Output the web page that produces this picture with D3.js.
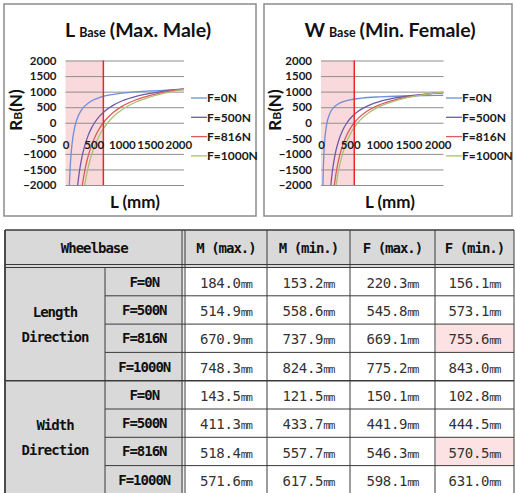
<!DOCTYPE html>
<html>
<head>
<meta charset="utf-8">
<script src="https://cdn.jsdelivr.net/npm/d3@7"></script>
<style>
  body { margin: 0; background: #fff; }
  svg { display: block; }
</style>
</head>
<body>
<svg width="515" height="493"></svg>
<script>
// legend / series
var forces = ['F=0N', 'F=500N', 'F=816N', 'F=1000N'];
var seriesColors = ['#6f8edb', '#6b5ba9', '#db5a5c', '#a9c172'];

// L base (max. male) -- [L (mm), RB (N)]
var maleF0 = [[68,-2000],[80,-1517],[100,-980],[130,-485],[160,-175],[184,0],[220,191],[270,372],[330,516],[400,630],[500,738],[600,809],[700,860],[850,914],[1000,952],[1250,995],[1500,1024],[1750,1044],[2000,1060],[2100,1065]];
var maleF500 = [[216,-2000],[240,-1651],[280,-1209],[330,-807],[400,-414],[460,-172],[515,0],[600,204],[700,381],[850,568],[1000,699],[1250,847],[1500,946],[1750,1017],[2000,1070],[2100,1088]];
var maleF816 = [[298,-2000],[330,-1647],[380,-1221],[450,-783],[530,-424],[600,-188],[671,0],[750,168],[850,336],[1000,525],[1250,739],[1500,882],[1750,984],[2000,1060],[2100,1085]];
var maleF1000 = [[340,-2000],[380,-1610],[430,-1230],[500,-825],[580,-482],[660,-222],[748,0],[850,199],[1000,418],[1250,667],[1500,832],[1750,951],[2000,1039],[2100,1069]];

// W base (min. female)
var femaleF0 = [[33,-2000],[40,-1457],[50,-980],[65,-540],[80,-265],[103,0],[130,194],[170,367],[220,494],[300,610],[400,689],[500,737],[700,792],[1000,833],[1500,864],[2000,880],[2100,883]];
var femaleF500 = [[169,-2000],[190,-1636],[220,-1246],[260,-866],[310,-530],[370,-246],[445,0],[520,178],[600,317],[700,446],[850,583],[1000,679],[1250,788],[1500,860],[1750,912],[2000,950],[2100,963]];
var femaleF816 = [[229,-2000],[260,-1603],[300,-1210],[350,-846],[420,-481],[490,-220],[571,0],[650,165],[750,322],[850,442],[1000,577],[1250,730],[1500,832],[1750,905],[2000,960],[2100,978]];
var femaleF1000 = [[260,-2000],[290,-1650],[330,-1280],[390,-867],[460,-522],[540,-237],[631,0],[720,173],[820,323],[950,470],[1100,597],[1300,721],[1500,812],[1750,896],[2000,959],[2100,981]];

var xTicks = [0, 500, 1000, 1500, 2000];
var yTicks = [-2000, -1500, -1000, -500, 0, 500, 1000, 1500, 2000];

// table
var tableCols = ['M (max.)', 'M (min.)', 'F (max.)', 'F (min.)'];
var groupNames = [['Length', 'Direction'], ['Width', 'Direction']];
var lengthRows = [[184.0, 153.2, 220.3, 156.1], [514.9, 558.6, 545.8, 573.1], [670.9, 737.9, 669.1, 755.6], [748.3, 824.3, 775.2, 843.0]];
var widthRows = [[143.5, 121.5, 150.1, 102.8], [411.3, 433.7, 441.9, 444.5], [518.4, 557.7, 546.3, 570.5], [571.6, 617.5, 598.1, 631.0]];

var limitMale = lengthRows[2][0];    // 670.9 mm
var limitFemale = widthRows[2][3];   // 570.5 mm

var svg = d3.select('svg');
var chartFont = 'Lato, "Open Sans", sans-serif';
var fmt = d3.format('d');

function drawChart(opt) {
  var g = svg.append('g');
  // panel frame
  g.append('rect').attr('x', opt.box[0]).attr('y', opt.box[1])
    .attr('width', opt.box[2]).attr('height', opt.box[3])
    .attr('fill', '#fff').attr('stroke', '#8c8c8c').attr('stroke-width', 1.5);

  var x = d3.scaleLinear().domain([0, 2100]).range(opt.xr);
  var y = d3.scaleLinear().domain([-2000, 2000]).range([185, 60.5]);

  // shaded zone left of limit
  g.append('rect').attr('x', x(0)).attr('y', y(2000))
    .attr('width', x(opt.limit) - x(0)).attr('height', y(-2000) - y(2000))
    .attr('fill', '#f9d9dc');

  // gridlines (the x axis sits on -500, its line is not visible)
  var grid = g.append('g').attr('transform', 'translate(' + x(0) + ',0)')
    .call(d3.axisLeft(y).tickValues(yTicks.filter(d => d !== -500))
      .tickSize(-(opt.xr[1] - opt.xr[0])).tickFormat(''));
  grid.select('.domain').remove();
  grid.selectAll('line').attr('stroke', '#8f8f8f').attr('stroke-width', 1);

  var clipId = 'clip' + opt.id;
  g.append('clipPath').attr('id', clipId).append('rect')
    .attr('x', x(0)).attr('y', y(2000)).attr('width', opt.xr[1] - x(0)).attr('height', y(-2000) - y(2000));

  var line = d3.line().x(d => x(d[0])).y(d => y(d[1])).curve(d3.curveMonotoneX);
  g.append('g').attr('clip-path', 'url(#' + clipId + ')')
    .selectAll('path').data(opt.series).enter().append('path')
    .attr('d', line).attr('fill', 'none')
    .attr('stroke', (d, i) => seriesColors[i]).attr('stroke-width', 1.3);

  // limit line
  g.append('line').attr('x1', x(opt.limit)).attr('x2', x(opt.limit))
    .attr('y1', y(2000)).attr('y2', y(-2000))
    .attr('stroke', '#e8252b').attr('stroke-width', 1.5);

  // y axis labels
  var ya = g.append('g').attr('transform', 'translate(' + x(0) + ',0)')
    .call(d3.axisLeft(y).tickValues(yTicks).tickFormat(fmt).tickSize(0).tickPadding(opt.yPad));
  ya.select('.domain').remove();
  ya.selectAll('text').attr('font-family', chartFont).attr('font-size', 11.5)
    .attr('font-weight', 'bold').attr('fill', '#1a1a1a');

  // x axis labels, axis crossing at -500
  var xa = g.append('g').attr('transform', 'translate(0,' + y(-500) + ')')
    .call(d3.axisBottom(x).tickValues(xTicks).tickFormat(fmt).tickSize(0).tickPadding(3));
  xa.select('.domain').remove();
  xa.selectAll('text').attr('font-family', chartFont).attr('font-size', 11.5)
    .attr('font-weight', 'bold').attr('fill', '#1a1a1a');

  // title
  var t = g.append('text').attr('x', opt.titleX).attr('y', 37)
    .attr('text-anchor', 'middle').attr('font-family', chartFont)
    .attr('font-weight', 'bold').attr('fill', '#111');
  t.append('tspan').attr('font-size', 19.5).text(opt.title[0]);
  t.append('tspan').attr('font-size', 12.5).attr('dx', 4).text(opt.title[1]);
  t.append('tspan').attr('font-size', 19.5).attr('dx', 4).text(opt.title[2]);

  // y title
  var yt = g.append('text').attr('transform', 'translate(' + opt.yTitleX + ',110) rotate(-90)')
    .attr('text-anchor', 'middle').attr('font-family', chartFont)
    .attr('font-weight', 'bold').attr('fill', '#111');
  yt.append('tspan').attr('font-size', 17).text('R');
  yt.append('tspan').attr('font-size', 12).text('B');
  yt.append('tspan').attr('font-size', 17).text('(N)');

  // x title
  g.append('text').attr('x', opt.xTitleX).attr('y', 208).attr('text-anchor', 'middle')
    .attr('font-family', chartFont).attr('font-size', 17).attr('font-weight', 'bold')
    .attr('fill', '#111').text('L (mm)');

  // legend
  var lg = g.append('g').selectAll('g').data(forces).enter().append('g')
    .attr('transform', (d, i) => 'translate(' + opt.legX + ',' + (98 + i * 19.3) + ')');
  lg.append('line').attr('x1', 0).attr('x2', 16).attr('stroke', (d, i) => seriesColors[i]).attr('stroke-width', 1.3);
  lg.append('text').attr('x', 16).attr('dy', '0.35em').attr('font-family', chartFont)
    .attr('font-size', 12).attr('font-weight', 'bold').attr('fill', '#1a1a1a').text(d => d);
}

drawChart({
  id: 'm', box: [4, 4, 252, 212], xr: [65.5, 184], limit: limitMale,
  series: [maleF0, maleF500, maleF816, maleF1000],
  title: ['L', 'Base', '(Max. Male)'], titleX: 138, yTitleX: 22, xTitleX: 135,
  yPad: 9, legX: 191
});
drawChart({
  id: 'f', box: [264, 4, 248, 212], xr: [321, 443.5], limit: limitFemale,
  series: [femaleF0, femaleF500, femaleF816, femaleF1000],
  title: ['W', 'Base', '(Min. Female)'], titleX: 390, yTitleX: 281, xTitleX: 390,
  yPad: 9, legX: 446
});

// ---------------- table ----------------
var colX = [5, 105, 183.5, 267, 350, 435, 514];
var tTop = 230, headH = 37.5, rowH = 28.3;
var rowsTop = tTop + headH;
var allRows = lengthRows.concat(widthRows);
var tbl = svg.append('g');
var monoFont = '"DejaVu Sans Mono", monospace';
var gray = '#d9d9d9';

// backgrounds
tbl.append('rect').attr('x', colX[0]).attr('y', tTop).attr('width', colX[6] - colX[0]).attr('height', headH).attr('fill', gray);
tbl.append('rect').attr('x', colX[0]).attr('y', rowsTop).attr('width', colX[2] - colX[0]).attr('height', rowH * 8).attr('fill', gray);
// highlighted cells (F=816N, F (min.))
tbl.selectAll('rect.hl').data([2, 6]).enter().append('rect')
  .attr('x', colX[5] + 1).attr('y', d => rowsTop + d * rowH + 0.5)
  .attr('width', colX[6] - colX[5] - 1).attr('height', rowH - 1).attr('fill', '#fde2e3');

var stroke = '#3a3a3a';
function hline(x1, x2, yy, w) {
  tbl.append('line').attr('x1', x1).attr('x2', x2).attr('y1', yy).attr('y2', yy)
    .attr('stroke', stroke).attr('stroke-width', w || 1);
}
function vline(xx, y1, y2, w) {
  tbl.append('line').attr('x1', xx).attr('x2', xx).attr('y1', y1).attr('y2', y2)
    .attr('stroke', stroke).attr('stroke-width', w || 1);
}
var tBottom = rowsTop + rowH * 8;
hline(colX[0], colX[6], tTop, 1.6);
hline(colX[0], colX[6], rowsTop - 3, 1);
hline(colX[0], colX[6], rowsTop, 1);
for (var r = 1; r < 8; r++) {
  if (r === 4) hline(colX[0], colX[6], rowsTop + r * rowH, 1.4);
  else hline(colX[1], colX[6], rowsTop + r * rowH, 1);
}
vline(colX[0], tTop, tBottom, 1.8);
vline(colX[1], rowsTop, tBottom, 1);
vline(colX[2] - 1.5, tTop, tBottom, 1);
vline(colX[2] + 1.5, tTop, tBottom, 1);
[3, 4, 5].forEach(c => vline(colX[c], tTop, tBottom, 1));
vline(colX[6], tTop, tBottom, 1);

function headText(xx, yy, s) {
  tbl.append('text').attr('x', xx).attr('y', yy).attr('dy', '0.36em').attr('text-anchor', 'middle')
    .attr('font-family', monoFont).attr('font-weight', 'bold').attr('font-size', 14)
    .attr('letter-spacing', -1).attr('fill', '#111').text(s);
}
headText((colX[0] + colX[2]) / 2, tTop + headH / 2 - 1, 'Wheelbase');
tableCols.forEach((c, i) => {
  var l = i === 0 ? colX[2] + 1.5 : colX[i + 2];
  headText((l + colX[i + 3]) / 2, tTop + headH / 2 - 1, c);
});
groupNames.forEach((gn, gi) => {
  var cy = rowsTop + (gi * 4 + 2) * rowH;
  headText((colX[0] + colX[1]) / 2, cy - 12, gn[0]);
  headText((colX[0] + colX[1]) / 2, cy + 13, gn[1]);
});
allRows.forEach((row, ri) => {
  var cy = rowsTop + ri * rowH + rowH / 2;
  headText((colX[1] + colX[2]) / 2, cy, forces[ri % 4]);
  row.forEach((v, ci) => {
    var l = ci === 0 ? colX[2] + 1.5 : colX[ci + 2];
    var t = tbl.append('text').attr('x', (l + colX[ci + 3]) / 2).attr('y', cy).attr('dy', '0.38em')
      .attr('text-anchor', 'middle').attr('font-family', monoFont).attr('fill', '#333');
    t.append('tspan').attr('font-size', 14).attr('letter-spacing', -0.3).text(v.toFixed(1));
    t.append('tspan').attr('font-size', 11).attr('letter-spacing', -1).text('mm');
  });
});
</script>
</body>
</html>
